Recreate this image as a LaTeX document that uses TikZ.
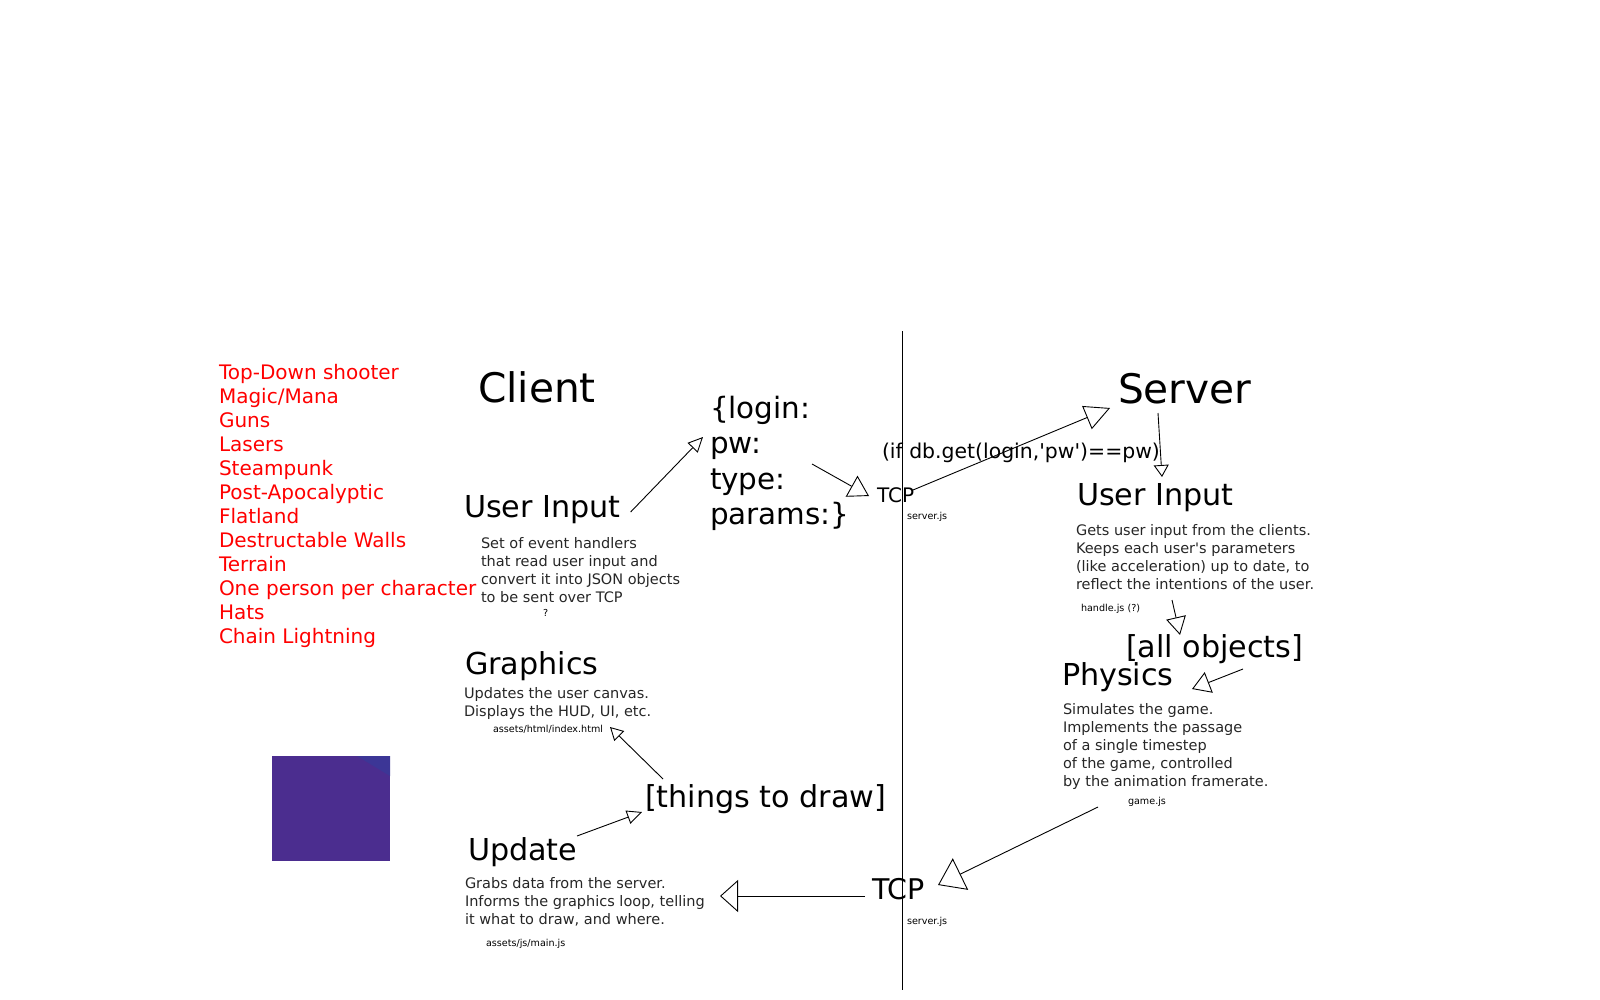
\documentclass[tikz,border=0pt]{standalone}
\usepackage{fontspec}
\setmainfont{DejaVu Sans}
\usetikzlibrary{arrows.meta}
\definecolor{purp}{RGB}{75,45,143}
\definecolor{purpc}{RGB}{60,54,150}
\newcommand\fsz[2]{\fontsize{#1}{#2}\selectfont}
\newcommand\sq{\textquotesingle}
\begin{document}
\begin{tikzpicture}[x=1pt,y=-1pt,
  every node/.style={inner sep=0pt, outer sep=0pt},
  lbl/.style={anchor=base west, font=\fsz{30.2}{36}},
  desc/.style={anchor=north west, align=left, font=\fsz{14.5}{18}, text=black!85},
  tiny/.style={anchor=base west, font=\fsz{9.6}{12}},
  conn/.style={line width=0.9pt},
  hd/.style 2 args={-{Triangle[open,length=#1pt,width=#2pt]}}
]
\useasboundingbox (0,0) rectangle (1600,1000);

% theme list
\node[anchor=north west, align=left, font=\fsz{20}{24}, text=red] (themes) at (219,363)
  {\rule{0pt}{16pt}Top-Down shooter\\Magic/Mana\\Guns\\Lasers\\Steampunk\\Post-Apocalyptic\\Flatland\\Destructable Walls\\Terrain\\One person per character\\Hats\\Chain Lightning};

% purple square
\fill[purp] (272,756) rectangle (390,861);
\fill[purpc] (357,756) -- (390,756) -- (390,776) -- cycle;

% divider
\draw[conn] (902,331) -- (902,990);

% client side
\node[anchor=base west, font=\fsz{40.7}{46}] (client) at (478,402) {Client};
\node[anchor=north west, align=left, font=\fsz{29.4}{35.5}] (json) at (710,395)
  {\rule{0pt}{23pt}\{login:\\pw:\\type:\\params:\}};
\node[lbl] (cui) at (464,517) {User Input};
\node[desc] (cuidesc) at (481,536) {\rule{0pt}{12pt}Set of event handlers\\that read user input and\\convert it into JSON objects\\to be sent over TCP};
\node[tiny] (cuiq) at (543,616) {?};

\node[lbl] (gfx) at (465,674) {Graphics};
\node[desc] (gfxdesc) at (464,686) {\rule{0pt}{12pt}Updates the user canvas.\\Displays the HUD, UI, etc.};
\node[tiny] (idx) at (493,732) {assets/html/index.html};

\node[lbl] (things) at (645,807) {[things to draw]};

\node[lbl] (upd) at (468,860) {Update};
\node[desc] (upddesc) at (465,876) {\rule{0pt}{12pt}Grabs data from the server.\\Informs the graphics loop, telling\\it what to draw, and where.};
\node[tiny] (mainjs) at (486,946) {assets/js/main.js};

% middle
\node[anchor=base west, font=\fsz{20}{24}] (tcpa) at (877,502) {TCP};
\node[tiny] (srva) at (907,519) {server.js};
\node[anchor=base west, font=\fsz{20.4}{24}] (cond) at (882,458) {(if db.get(login,\sq pw\sq)==pw)};
\node[anchor=base west, font=\fsz{28.5}{34}] (tcpb) at (872,899) {TCP};
\node[tiny] (srvb) at (907,924) {server.js};

% server side
\node[anchor=base west, font=\fsz{40.7}{46}] (server) at (1118,403) {Server};
\node[lbl] (sui) at (1077,505) {User Input};
\node[desc] (suidesc) at (1076,523) {\rule{0pt}{12pt}Gets user input from the clients.\\Keeps each user\sq s parameters\\(like acceleration) up to date, to\\reflect the intentions of the user.};
\node[tiny] (handle) at (1081,611) {handle.js (?)};
\node[lbl] (allobj) at (1126,657) {[all objects]};
\node[lbl] (phys) at (1062,685) {Physics};
\node[desc] (physdesc) at (1063,702) {\rule{0pt}{12pt}Simulates the game.\\Implements the passage\\of a single timestep\\of the game, controlled\\by the animation framerate.};
\node[tiny] (gamejs) at (1128,804) {game.js};

% connectors
\draw[conn, hd={15}{14}] ([shift={(10,-5)}]cui.base east) -- ([shift={(-7,42)}]json.north west);
\draw[conn, hd={20}{24}] ([shift={(102,69)}]json.north west) -- ([shift={(-8,-6)}]tcpa.base west);
\draw[conn, hd={25}{25}] ([shift={(36,-12)}]tcpa.base west) -- ([shift={(-8,5)}]server.base west);
\draw[conn, hd={12}{15}] ([shift={(40,10)}]server.base west) -- ([shift={(85,-28)}]sui.base west);
\draw[conn, hd={18}{20}] ([shift={(96,77)}]suidesc.north west) -- ([shift={(54,-22)}]allobj.base west);
\draw[conn, hd={18}{22}] ([shift={(117,12)}]allobj.base west) -- ([shift={(130,4)}]phys.base west);
\draw[conn, hd={25}{35}] ([shift={(-30,3)}]gamejs.base west) -- ([shift={(66,-14)}]tcpb.base west);
\draw[conn, hd={18}{32}] ([shift={(-7,-3)}]tcpb.base west) -- ([shift={(255,20)}]upddesc.north west);
\draw[conn, hd={15}{14}] ([shift={(109,-24)}]upd.base west) -- ([shift={(-3,5)}]things.base west);
\draw[conn, hd={13}{14}] ([shift={(18,-28)}]things.base west) -- ([shift={(117,-5)}]idx.base west);
\end{tikzpicture}
\end{document}
